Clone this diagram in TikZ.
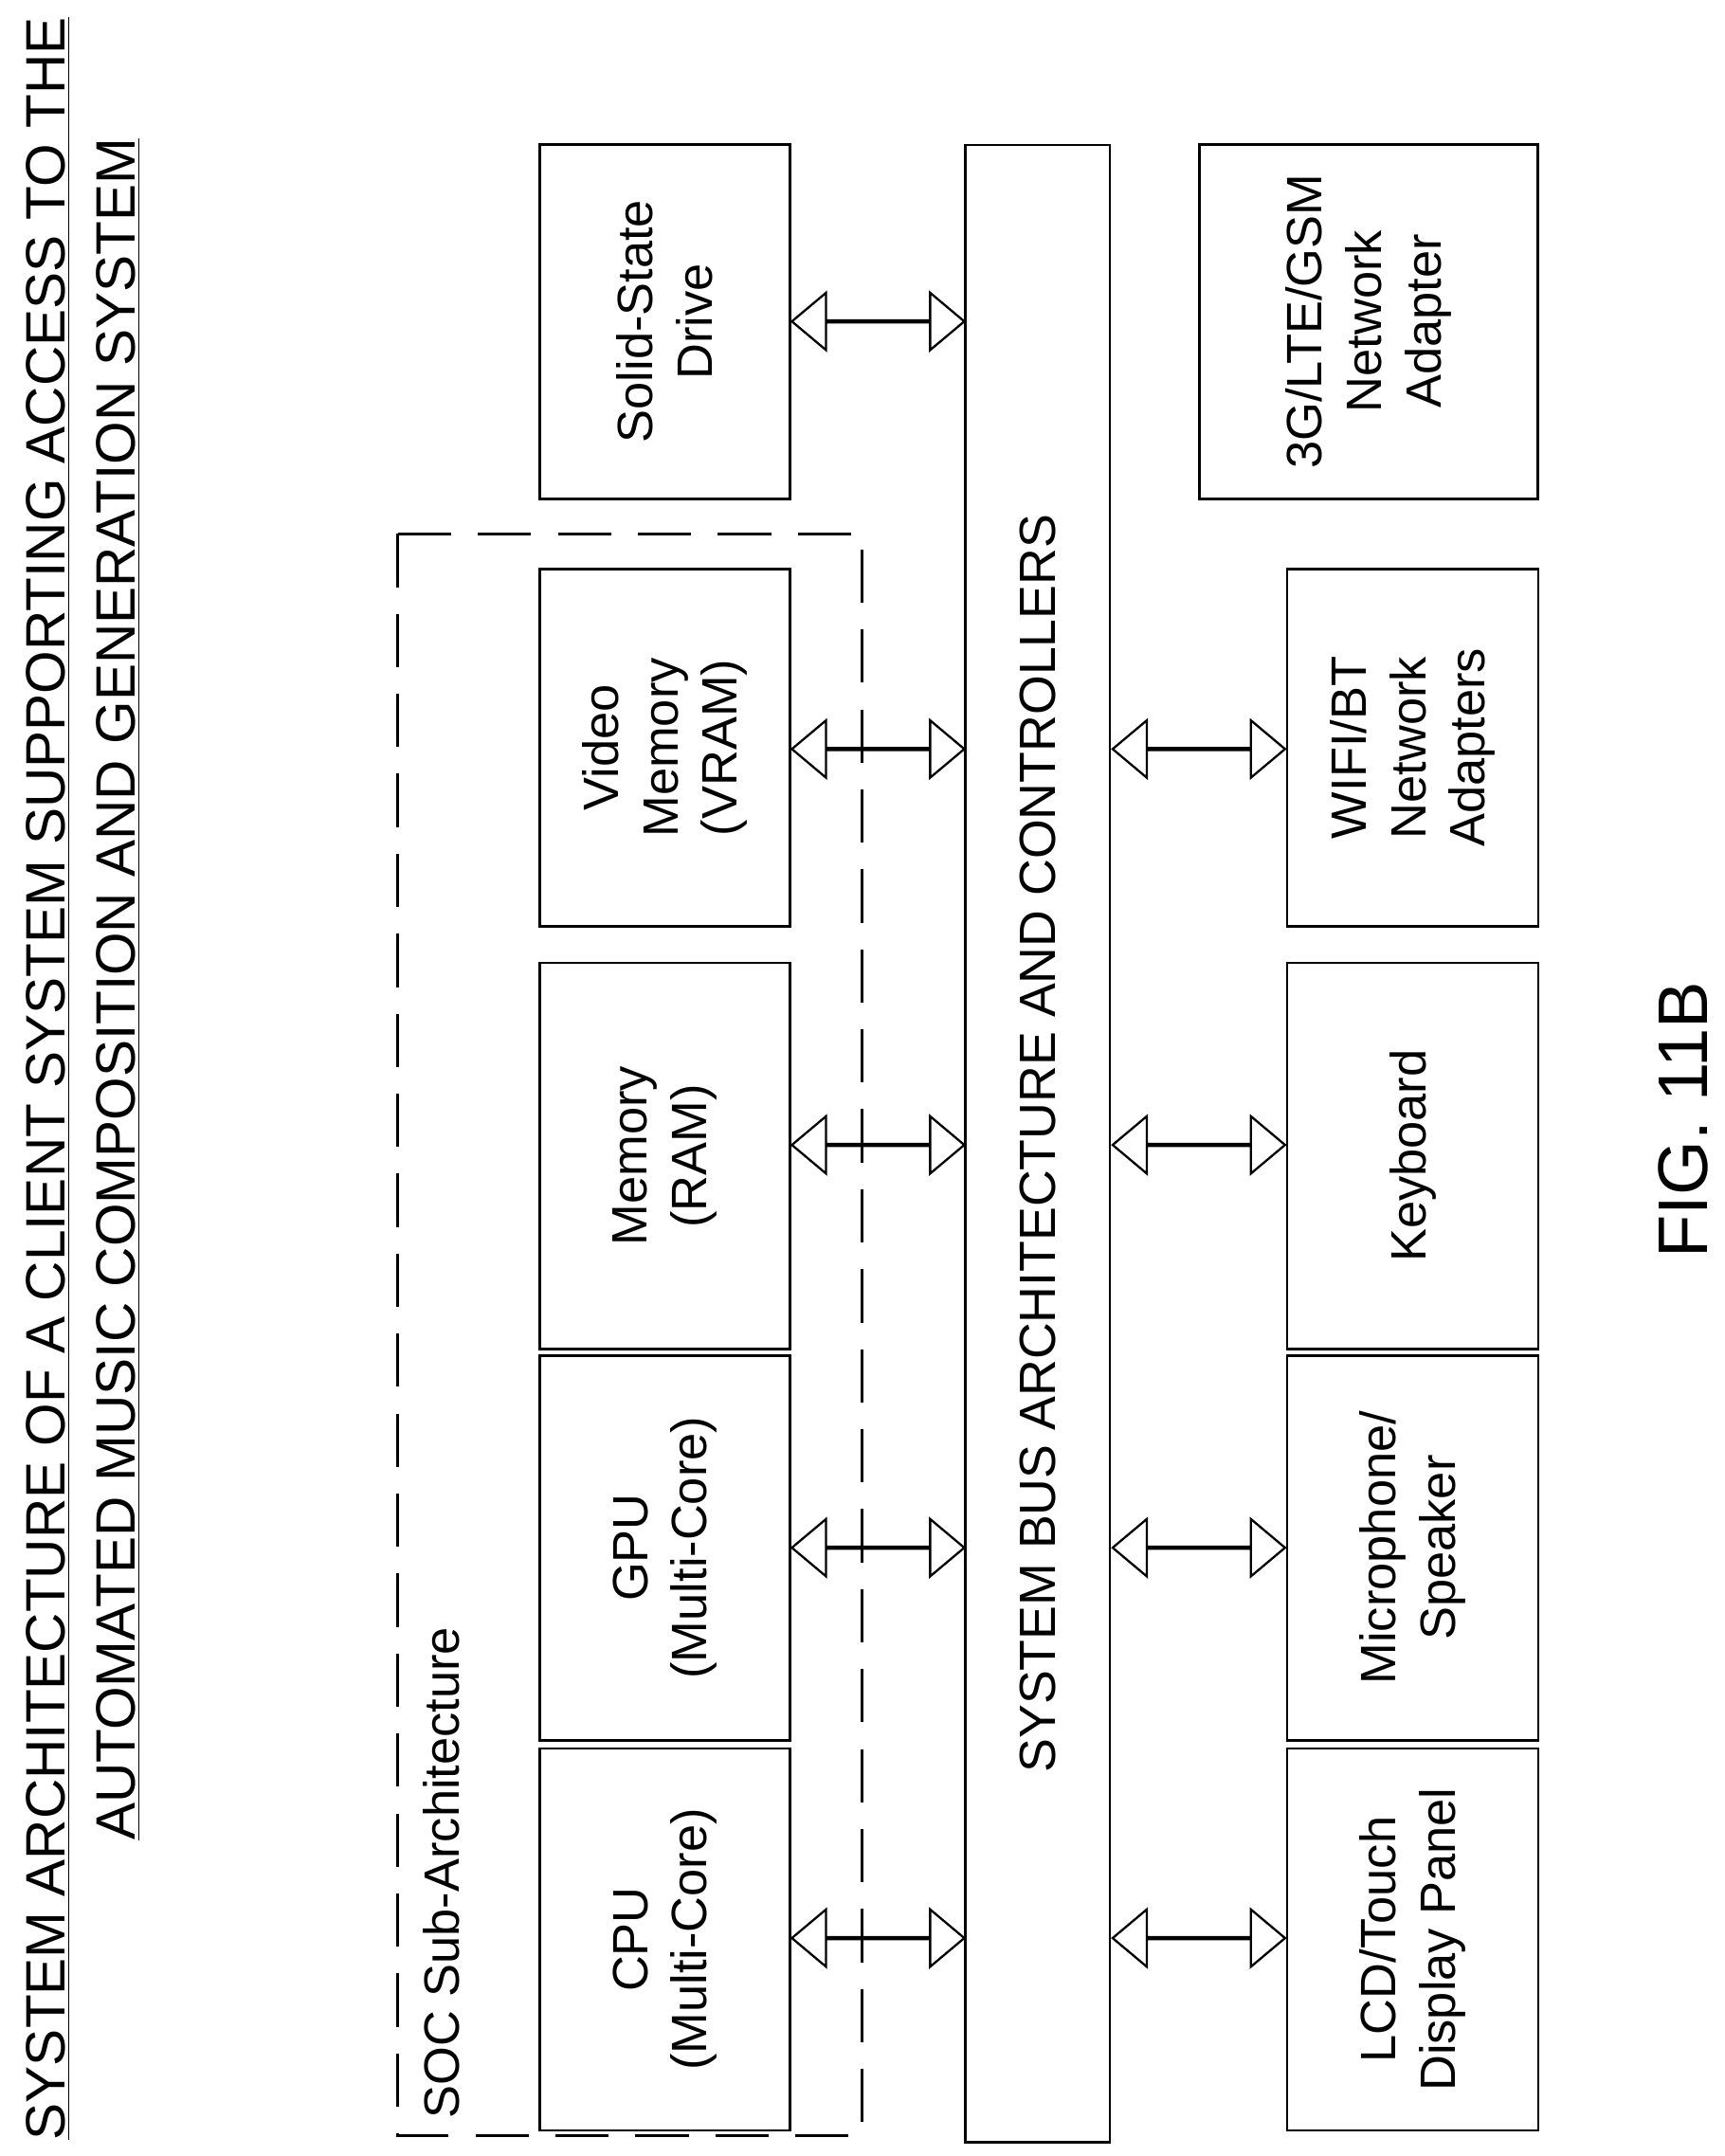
\documentclass[tikz,border=0pt]{standalone}
\usepackage{fontspec}
\setmainfont{Liberation Sans}
\usetikzlibrary{shapes.arrows}
\begin{document}
\begin{tikzpicture}[x=0.02cm,y=-0.02cm,
 box/.style={draw,line width=1.1pt,rotate=90,align=center,font=\fontsize{20.5}{24.5}\selectfont,inner sep=0pt},
 dar/.style={double arrow,draw,line width=0.9pt,minimum height=2.5cm,minimum width=0.4cm,double arrow head extend=0.4cm,inner sep=0pt,text width=0pt,double arrow tip angle=80},
 ttl/.style={rotate=90,font=\fontsize{22.9}{27}\selectfont,inner sep=1pt}]
\useasboundingbox (0,0) rectangle (1250,1563);
\node[ttl] (t1) at (35,782) {\underline{SYSTEM ARCHITECTURE OF A CLIENT SYSTEM SUPPORTING ACCESS TO THE}};
\node[ttl] (t2) at (86,717) {\underline{AUTOMATED MUSIC COMPOSITION AND GENERATION SYSTEM}};
\draw[line width=1.2pt,dash pattern=on 22pt off 11pt] (288,387) rectangle (625,1548);
\node[rotate=90,anchor=west,font=\fontsize{20.5}{24.5}\selectfont] (soc) at (320,1542) {SOC Sub-Architecture};
\node[box,minimum width=5.54cm,minimum height=3.62cm] (cpu) at (482,1406) {CPU\\(Multi-Core)};
\node[box,minimum width=5.58cm,minimum height=3.62cm] (gpu) at (482,1122) {GPU\\(Multi-Core)};
\node[box,minimum width=5.6cm,minimum height=3.62cm] (mem) at (482,838) {Memory\\(RAM)};
\node[box,minimum width=5.18cm,minimum height=3.62cm] (vram) at (482,542) {Video\\Memory\\(VRAM)};
\node[box,minimum width=5.14cm,minimum height=3.62cm] (ssd) at (482,233) {Solid-State\\Drive};
\node[box,minimum width=28.96cm,minimum height=2.1cm,font=\fontsize{21}{25}\selectfont] (bus) at (752,829) {SYSTEM BUS ARCHITECTURE AND CONTROLLERS};
\node[box,minimum width=5.54cm,minimum height=3.64cm] (lcd) at (1024,1406) {LCD/Touch\\Display Panel};
\node[box,minimum width=5.58cm,minimum height=3.64cm] (mic) at (1024,1122) {Microphone/\\Speaker};
\node[box,minimum width=5.6cm,minimum height=3.64cm] (kbd) at (1024,838) {Keyboard};
\node[box,minimum width=5.18cm,minimum height=3.64cm] (wifi) at (1024,542) {WIFI/BT\\Network\\Adapters};
\node[box,minimum width=5.14cm,minimum height=4.9cm] (g3) at (992,233) {3G/LTE/GSM\\Network\\Adapter};
\foreach \y/\n in {1405/a,1122/b,830/c,543/d,233/e}
  \node[dar,fill=white] (l\n) at (636.5,\y) {};
\foreach \y/\n in {1405/a,1122/b,830/c,543/d}
  \node[dar] (r\n) at (869,\y) {};
\node[rotate=90,font=\fontsize{29}{34}\selectfont] (fig) at (1220,812) {FIG. 11B};
\end{tikzpicture}
\end{document}
